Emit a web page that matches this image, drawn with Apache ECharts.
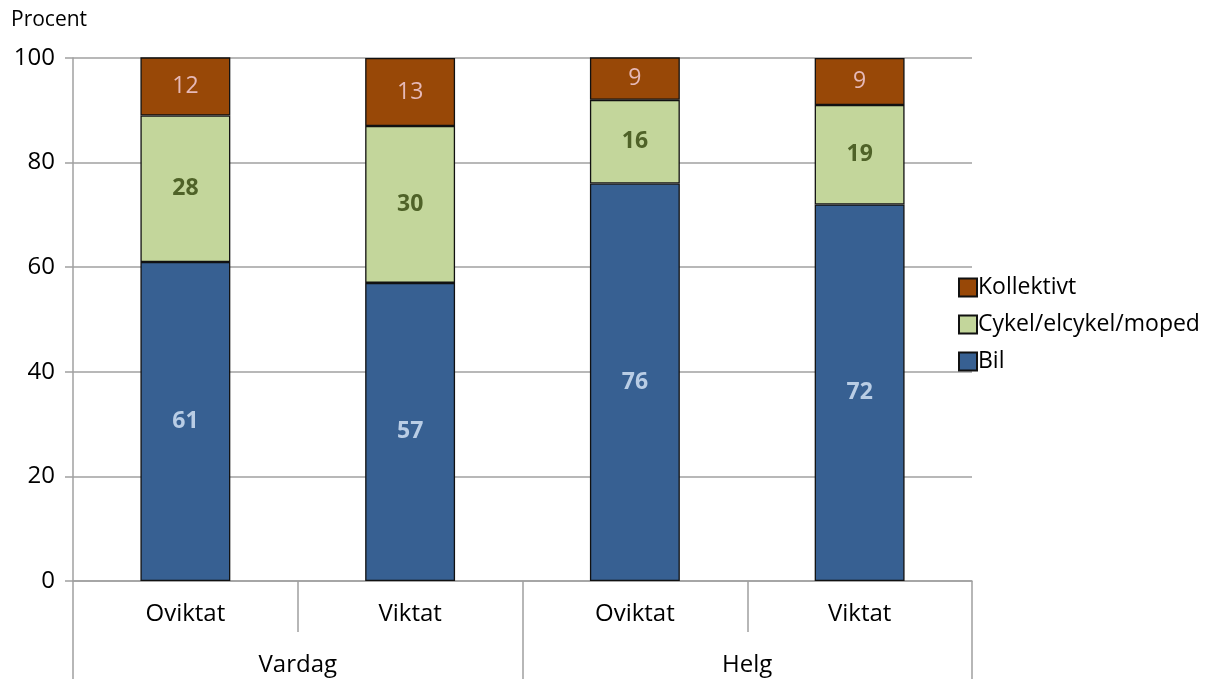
<!DOCTYPE html>
<html>
<head>
<meta charset="utf-8">
<script src="https://cdn.jsdelivr.net/npm/echarts@6/dist/echarts.min.js"></script>
<style>
  html, body { margin: 0; padding: 0; background: #fff; }
  #chart { width: 1206px; height: 679px; }
</style>
</head>
<body>
<div id="chart"></div>
<script>
// Travel mode shares (percent) by weighting and day type
const groups = ['Vardag', 'Helg'];
const categories = ['Oviktat', 'Viktat', 'Oviktat', 'Viktat'];
const bil = [61, 57, 76, 72];
const cykel = [28, 30, 16, 19];
const kollektivt = [12, 13, 9, 9];
const yTicks = { min: 0, max: 100, step: 20 };

const FONT = '"Open Sans", "Noto Sans", sans-serif';
const GRAY = '#a0a0a0';

function barSeries(name, values, color, labelColor, bold) {
  return {
    name: name,
    type: 'bar',
    stack: 'total',
    barWidth: '40%',
    data: values,
    itemStyle: { color: color, borderColor: '#111', borderWidth: 1.3 },
    label: {
      show: true,
      position: 'inside',
      color: labelColor,
      fontFamily: FONT,
      fontSize: 23,
      fontWeight: bold ? 'bold' : 'normal'
    },
    emphasis: { disabled: true }
  };
}

const chart = echarts.init(document.getElementById('chart'), null, { renderer: 'canvas' });
chart.setOption({
  animation: false,
  backgroundColor: '#fff',
  title: {
    text: 'Procent',
    left: 6,
    top: 5,
    textStyle: { fontFamily: FONT, fontSize: 21, fontWeight: 'normal', color: '#000' }
  },
  legend: {
    orient: 'vertical',
    left: 953,
    top: 271,
    itemWidth: 18,
    itemHeight: 18,
    itemGap: 14,
    icon: 'rect',
    data: ['Kollektivt', 'Cykel/elcykel/moped', 'Bil'],
    textStyle: { fontFamily: FONT, fontSize: 23, color: '#000', padding: [0, 0, 0, -4] }
  },
  grid: { left: 73, right: 234, top: 58, bottom: 98, containLabel: false },
  xAxis: [
    {
      type: 'category',
      data: categories,
      position: 'bottom',
      axisLine: { show: true, lineStyle: { color: GRAY, width: 1.5 } },
      axisTick: { show: true, length: 51, interval: 0, lineStyle: { color: GRAY, width: 1.5 } },
      axisLabel: { margin: 21, fontFamily: FONT, fontSize: 24, color: '#000', interval: 0 }
    },
    {
      type: 'category',
      data: groups,
      position: 'bottom',
      offset: 51,
      axisLine: { show: false },
      axisTick: { show: true, length: 60, interval: 0, lineStyle: { color: GRAY, width: 1.5 } },
      axisLabel: { margin: 21, fontFamily: FONT, fontSize: 24, color: '#000', interval: 0 }
    }
  ],
  yAxis: {
    type: 'value',
    min: yTicks.min,
    max: yTicks.max,
    interval: yTicks.step,
    axisLine: { show: true, lineStyle: { color: GRAY, width: 1.5 } },
    axisTick: { show: true, length: 8, lineStyle: { color: GRAY, width: 1.5 } },
    axisLabel: { margin: 18, fontFamily: FONT, fontSize: 24, color: '#000' },
    splitLine: { show: true, lineStyle: { color: GRAY, width: 1.5 } }
  },
  series: [
    barSeries('Bil', bil, '#376092', '#b9cde5', true),
    barSeries('Cykel/elcykel/moped', cykel, '#c3d69b', '#4f6228', true),
    barSeries('Kollektivt', kollektivt, '#984807', '#e6b9b8', false)
  ]
});
</script>
</body>
</html>
